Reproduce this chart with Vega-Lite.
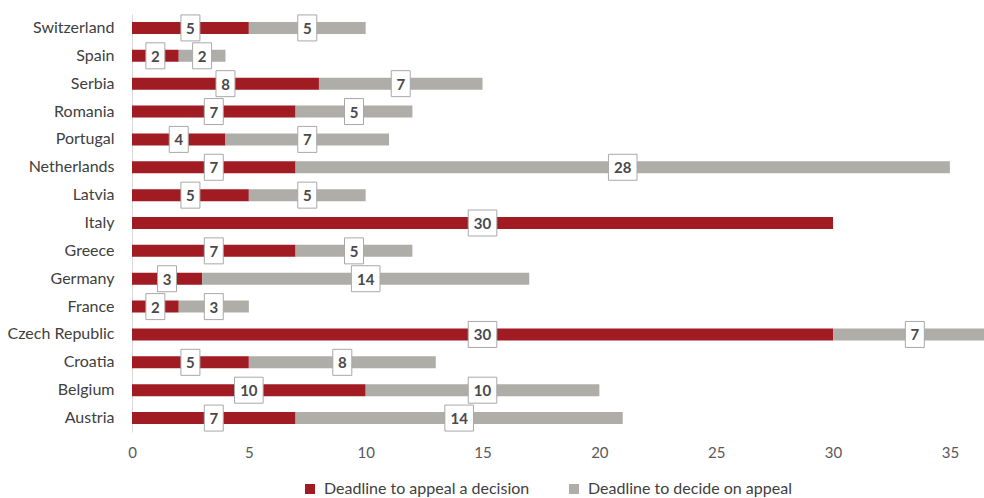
{
  "$schema": "https://vega.github.io/schema/vega-lite/v6.json",
  "width": 852,
  "height": 418,
  "autosize": {"type": "none"},
  "padding": {"left": 132, "top": 14, "right": 0, "bottom": 66},
  "config": {"font": "Lato", "view": {"stroke": null}},
  "data": {
    "values": [
      {"country": "Switzerland", "series": "Deadline to appeal a decision", "value": 5},
      {"country": "Switzerland", "series": "Deadline to decide on appeal", "value": 5},
      {"country": "Spain", "series": "Deadline to appeal a decision", "value": 2},
      {"country": "Spain", "series": "Deadline to decide on appeal", "value": 2},
      {"country": "Serbia", "series": "Deadline to appeal a decision", "value": 8},
      {"country": "Serbia", "series": "Deadline to decide on appeal", "value": 7},
      {"country": "Romania", "series": "Deadline to appeal a decision", "value": 7},
      {"country": "Romania", "series": "Deadline to decide on appeal", "value": 5},
      {"country": "Portugal", "series": "Deadline to appeal a decision", "value": 4},
      {"country": "Portugal", "series": "Deadline to decide on appeal", "value": 7},
      {"country": "Netherlands", "series": "Deadline to appeal a decision", "value": 7},
      {"country": "Netherlands", "series": "Deadline to decide on appeal", "value": 28},
      {"country": "Latvia", "series": "Deadline to appeal a decision", "value": 5},
      {"country": "Latvia", "series": "Deadline to decide on appeal", "value": 5},
      {"country": "Italy", "series": "Deadline to appeal a decision", "value": 30},
      {"country": "Greece", "series": "Deadline to appeal a decision", "value": 7},
      {"country": "Greece", "series": "Deadline to decide on appeal", "value": 5},
      {"country": "Germany", "series": "Deadline to appeal a decision", "value": 3},
      {"country": "Germany", "series": "Deadline to decide on appeal", "value": 14},
      {"country": "France", "series": "Deadline to appeal a decision", "value": 2},
      {"country": "France", "series": "Deadline to decide on appeal", "value": 3},
      {"country": "Czech Republic", "series": "Deadline to appeal a decision", "value": 30},
      {"country": "Czech Republic", "series": "Deadline to decide on appeal", "value": 7},
      {"country": "Croatia", "series": "Deadline to appeal a decision", "value": 5},
      {"country": "Croatia", "series": "Deadline to decide on appeal", "value": 8},
      {"country": "Belgium", "series": "Deadline to appeal a decision", "value": 10},
      {"country": "Belgium", "series": "Deadline to decide on appeal", "value": 10},
      {"country": "Austria", "series": "Deadline to appeal a decision", "value": 7},
      {"country": "Austria", "series": "Deadline to decide on appeal", "value": 14}
    ]
  },
  "encoding": {
    "y": {
      "field": "country",
      "type": "nominal",
      "sort": ["Switzerland", "Spain", "Serbia", "Romania", "Portugal", "Netherlands", "Latvia", "Italy", "Greece", "Germany", "France", "Czech Republic", "Croatia", "Belgium", "Austria"],
      "title": null,
      "axis": {
        "domain": true,
        "domainColor": "#d9d9d9",
        "ticks": false,
        "labelPadding": 18,
        "labelFontSize": 16,
        "labelColor": "#404040",
        "grid": false
      }
    }
  },
  "layer": [
    {
      "mark": {"type": "bar", "size": 12, "clip": true},
      "encoding": {
        "x": {
          "field": "value",
          "type": "quantitative",
          "stack": "zero",
          "title": null,
          "scale": {"domain": [0, 36.46], "nice": false, "zero": true},
          "axis": {
            "values": [0, 5, 10, 15, 20, 25, 30, 35],
            "domain": false,
            "ticks": false,
            "grid": false,
            "labelFlush": false,
            "labelPadding": 13,
            "labelFontSize": 15,
            "labelColor": "#595959"
          }
        },
        "color": {
          "field": "series",
          "type": "nominal",
          "scale": {
            "domain": ["Deadline to appeal a decision", "Deadline to decide on appeal"],
            "range": ["#a01b22", "#afada8"]
          },
          "legend": {
            "title": null,
            "orient": "none",
            "direction": "horizontal",
            "legendX": 170,
            "legendY": 467,
            "symbolType": "square",
            "symbolSize": 100,
            "symbolStrokeWidth": 0,
            "labelFontSize": 16,
            "labelColor": "#404040",
            "labelOffset": 6,
            "labelLimit": 400,
            "columnPadding": 36
          }
        }
      }
    },
    {
      "transform": [
        {"filter": "datum.value > 0"},
        {"stack": "value", "groupby": ["country"], "sort": [{"field": "series", "order": "ascending"}], "as": ["v0", "v1"]},
        {"calculate": "(datum.v0 + datum.v1) / 2", "as": "mid"}
      ],
      "mark": {"type": "point", "filled": true, "fill": "white", "stroke": "#a8a8a8", "strokeWidth": 1, "opacity": 1, "size": 676},
      "encoding": {
        "x": {"field": "mid", "type": "quantitative"},
        "shape": {
          "condition": {"test": "datum.value >= 10", "value": "M-1.1,-1H1.1V1H-1.1Z"},
          "value": "M-0.73,-1H0.73V1H-0.73Z"
        }
      }
    },
    {
      "transform": [
        {"filter": "datum.value > 0"},
        {"stack": "value", "groupby": ["country"], "sort": [{"field": "series", "order": "ascending"}], "as": ["v0", "v1"]},
        {"calculate": "(datum.v0 + datum.v1) / 2", "as": "mid"}
      ],
      "mark": {"type": "text", "fontSize": 15, "fontWeight": "bold", "color": "#4a4a4a", "baseline": "middle", "dy": 1},
      "encoding": {
        "x": {"field": "mid", "type": "quantitative"},
        "text": {"field": "value", "type": "quantitative"}
      }
    }
  ]
}
